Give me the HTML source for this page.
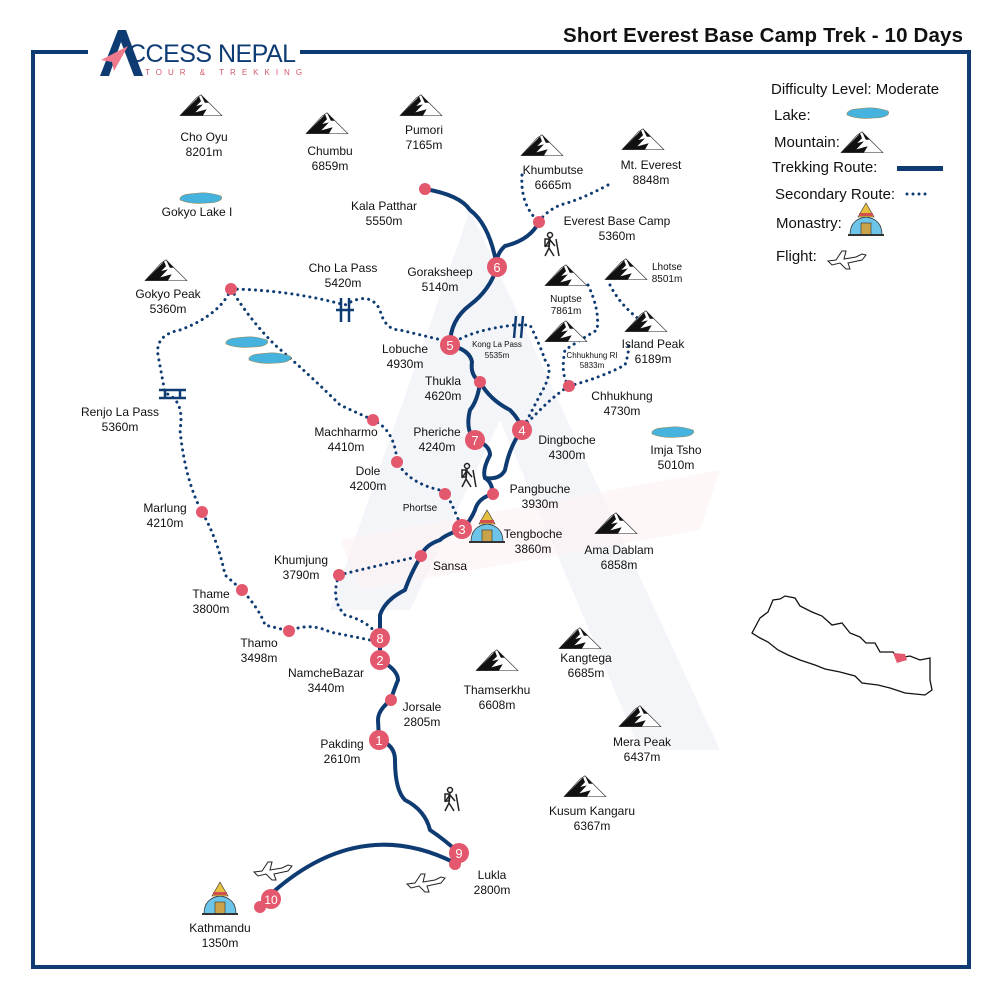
<!DOCTYPE html>
<html><head><meta charset="utf-8"><style>
body{margin:0;background:#fff}
svg{display:block}
text{font-family:"Liberation Sans",Arial,sans-serif;fill:#111}
</style></head><body>
<svg width="1000" height="1000" viewBox="0 0 1000 1000" xmlns="http://www.w3.org/2000/svg">
<defs>
<g id="mt"><g transform="scale(0.95,0.8)">
<path d="M-22,12 L-5,-10 L0,-14 L5,-8 L22,12 Z" fill="#fff" stroke="#222" stroke-width="0.7"/>
<path d="M-22,12 L-7,-6 L-2,-12 L0,-6 L-5,0 L2,-2 L-6,8 L6,4 L2,12 Z" fill="#111"/>
<path d="M0,-14 L8,-4 L4,-4 Z" fill="#111"/>
</g></g>
<g id="lake"><path d="M-21,0 C-18,-5 -8,-4 -2,-5 C6,-6 14,-4 20,-2 C23,2 16,5 6,5 C-4,6 -14,5 -21,2 Z" fill="#45b3dd" stroke="#9a8a5a" stroke-width="0.6"/></g>
<g id="mon">
<path d="M-16,12 Q-16,-4 0,-6 Q16,-4 16,12 Z" fill="#6cc4e8" stroke="#333" stroke-width="0.8"/>
<rect x="-5" y="0" width="10" height="12" fill="#c9a24a" stroke="#333" stroke-width="0.6"/>
<path d="M-8,-6 L0,-20 L8,-6 Z" fill="#e6c040" stroke="#333" stroke-width="0.6"/>
<rect x="-7" y="-10" width="14" height="3" fill="#d2504e"/>
<rect x="-18" y="11" width="36" height="2" fill="#333"/>
</g>
<g id="plane"><path d="M-18,4 L-10,3 L-4,-6 L0,-6 L-2,2 L10,0 L16,-3 L20,-2 L16,3 L2,6 L4,12 L0,12 L-6,6 L-14,8 Z" fill="#fff" stroke="#222" stroke-width="1"/></g>
<g id="hk" stroke="#222" stroke-width="1.5" fill="none"><circle cx="0" cy="-10" r="2.5"/><path d="M0,-7 L-1,3 L-5,11 M-1,3 L4,11 M0,-5 L5,1 M-1,-4 L-5,2 M6,-6 L9,11"/><rect x="-5" y="-6" width="4" height="7"/></g>
</defs>

<!-- watermark -->
<path d="M330,610 L470,210 L720,750 L640,750 L500,420 L410,610 Z" fill="#eef1f7" opacity="0.7"/>
<path d="M340,540 L720,470 L700,530 L360,590 Z" fill="#fdf2f4" opacity="0.6"/>

<!-- frame -->
<path d="M88,52 L33,52 L33,967 L969,967 L969,52 L300,52" fill="none" stroke="#0f3b73" stroke-width="4"/>
<text x="563" y="42" font-size="20.5" font-weight="bold" textLength="400">Short Everest Base Camp Trek - 10 Days</text>

<!-- logo -->
<path d="M100,76 L118,30 L126,30 L143,76 L134,76 L121,42 L109,76 Z" fill="#0f3b73"/>
<path d="M101,60 L128,46 L114,71 L112,62 Z" fill="#f07a8c"/>
<text x="128" y="62" font-size="25" style="fill:#0f3b73" textLength="168">CCESS NEPAL</text>
<text x="145" y="75" font-size="8" letter-spacing="6" style="fill:#d25a6a">TOUR &amp; TREKKING</text>

<!-- secondary routes -->
<g fill="none" stroke="#0f3b73" stroke-width="3" stroke-dasharray="0.1 6" stroke-linecap="round">
<path d="M522,175 Q520,205 539,222"/>
<path d="M608,185 Q580,200 560,205 Q545,212 539,222"/>
<path d="M231,289 Q290,290 345,305 Q370,290 380,310 Q385,330 400,330 L450,342"/>
<path d="M231,289 Q220,315 180,330 Q155,335 158,355 L165,393 Q185,400 180,430 Q185,480 202,512 Q218,540 225,575 L242,590 Q260,610 265,625 L289,631 Q310,622 330,632 L370,640"/>
<path d="M231,289 Q250,320 275,345 Q310,375 340,405 L373,420 Q395,430 397,462 Q410,485 445,491 Q455,510 462,529"/>
<path d="M339,575 Q380,565 421,556"/>
<path d="M339,575 Q330,600 345,615 Q372,622 380,640"/>
<path d="M450,345 Q470,330 515,325 L530,325 Q540,345 545,360 Q555,370 540,395 L522,430"/>
<path d="M588,285 Q600,310 597,330 Q580,340 565,350 Q560,375 569,386 Q555,395 540,410 L525,425"/>
<path d="M569,386 Q600,378 625,365 Q630,350 628,340"/>
<path d="M610,285 Q620,305 640,320"/>
</g>

<!-- main route -->
<g fill="none" stroke="#0f3b73" stroke-width="4" stroke-linecap="round" stroke-linejoin="round">
<path d="M425,189 Q460,195 470,210 Q490,225 497,267 Q490,290 470,305 Q450,320 450,345 Q470,350 472,362 Q470,375 480,382 Q478,400 470,410 Q465,430 475,440 Q490,445 490,455 Q482,470 485,478 Q492,482 493,494 Q478,498 475,510 Q470,522 462,529 Q445,535 440,540 Q425,545 421,556 Q410,575 405,590 Q385,600 380,615 L380,660 Q398,670 398,680 Q392,695 391,700 Q378,710 378,720 L379,740 Q395,745 395,760 Q395,790 405,800 Q425,810 430,830 Q445,840 459,853"/>
<path d="M480,382 Q490,400 510,410 Q520,420 522,430 Q510,445 505,470 Q500,480 485,478"/>
<path d="M539,222 Q530,240 505,246 Q495,255 497,267"/>
<path d="M272,893 Q360,815 455,863"/>
</g>

<!-- dots -->
<g fill="#e4586e">
<circle cx="425" cy="189" r="6"/><circle cx="539" cy="222" r="6"/><circle cx="231" cy="289" r="6"/>
<circle cx="480" cy="382" r="6"/><circle cx="373" cy="420" r="6"/><circle cx="397" cy="462" r="6"/>
<circle cx="445" cy="494" r="6"/><circle cx="493" cy="494" r="6"/><circle cx="421" cy="556" r="6"/>
<circle cx="339" cy="575" r="6"/><circle cx="202" cy="512" r="6"/><circle cx="242" cy="590" r="6"/>
<circle cx="289" cy="631" r="6"/><circle cx="391" cy="700" r="6"/><circle cx="569" cy="386" r="6"/>
<circle cx="455" cy="864" r="6"/><circle cx="260" cy="907" r="6"/>
<circle cx="497" cy="267" r="10"/><circle cx="450" cy="345" r="10"/><circle cx="475" cy="440" r="10"/>
<circle cx="522" cy="430" r="10"/><circle cx="462" cy="529" r="10"/><circle cx="380" cy="638" r="10"/>
<circle cx="380" cy="660" r="10"/><circle cx="379" cy="740" r="10"/><circle cx="459" cy="853" r="10"/>
<circle cx="271" cy="899" r="10"/>
</g>
<g font-size="13" text-anchor="middle">
<text x="497" y="272" style="fill:#fff">6</text><text x="450" y="350" style="fill:#fff">5</text>
<text x="475" y="445" style="fill:#fff">7</text><text x="522" y="435" style="fill:#fff">4</text>
<text x="462" y="534" style="fill:#fff">3</text><text x="380" y="643" style="fill:#fff">8</text>
<text x="380" y="665" style="fill:#fff">2</text><text x="379" y="745" style="fill:#fff">1</text>
<text x="459" y="858" style="fill:#fff">9</text><text x="271" y="904" style="fill:#fff" font-size="12">10</text>
</g>

<!-- passes -->
<g stroke="#0f3b73" stroke-width="2.5" fill="none">
<path d="M341,298 L341,322 M349,298 L349,322 M336,310 L354,310"/>
<path d="M516,316 L514,338 M523,316 L521,338"/>
<path d="M159,390 L186,390 M159,398 L186,398 M165,390 L165,398 M180,390 L180,398"/>
</g>

<!-- mountains -->
<use href="#mt" x="201" y="106"/><use href="#mt" x="327" y="124"/><use href="#mt" x="421" y="106"/>
<use href="#mt" x="542" y="146"/><use href="#mt" x="643" y="140"/><use href="#mt" x="166" y="271"/>
<use href="#mt" x="566" y="276"/><use href="#mt" x="626" y="270"/><use href="#mt" x="566" y="332"/>
<use href="#mt" x="646" y="322"/><use href="#mt" x="616" y="524"/><use href="#mt" x="580" y="639"/>
<use href="#mt" x="497" y="661"/><use href="#mt" x="640" y="717"/><use href="#mt" x="585" y="787"/>
<use href="#mt" x="862" y="143"/>

<!-- lakes -->
<use href="#lake" x="201" y="198"/><use href="#lake" x="247" y="342"/><use href="#lake" x="270" y="358"/>
<use href="#lake" x="673" y="432"/><use href="#lake" x="868" y="113"/>

<!-- monasteries, planes, hikers -->
<use href="#mon" x="487" y="530"/><use href="#mon" x="220" y="902"/><use href="#mon" x="866" y="223"/>
<use href="#plane" x="272" y="868"/><use href="#plane" x="425" y="880"/><use href="#plane" x="846" y="257"/>
<use href="#hk" x="550" y="245"/><use href="#hk" x="467" y="476"/><use href="#hk" x="450" y="800"/>

<!-- legend -->
<g font-size="15">
<text x="771" y="94">Difficulty Level: Moderate</text>
<text x="774" y="120">Lake:</text>
<text x="774" y="147">Mountain:</text>
<text x="772" y="172">Trekking Route:</text>
<text x="775" y="199">Secondary Route:</text>
<text x="776" y="228">Monastry:</text>
<text x="776" y="261">Flight:</text>
</g>
<rect x="897" y="166" width="46" height="5" fill="#0f3b73"/>
<g fill="#0f3b73"><circle cx="907" cy="194" r="1.5"/><circle cx="913" cy="194" r="1.5"/><circle cx="919" cy="194" r="1.5"/><circle cx="925" cy="194" r="1.5"/></g>

<!-- labels -->
<g font-size="12" text-anchor="middle">
<text x="204" y="141">Cho Oyu</text><text x="204" y="156">8201m</text>
<text x="330" y="155">Chumbu</text><text x="330" y="170">6859m</text>
<text x="424" y="134">Pumori</text><text x="424" y="149">7165m</text>
<text x="553" y="174">Khumbutse</text><text x="553" y="189">6665m</text>
<text x="651" y="169">Mt. Everest</text><text x="651" y="184">8848m</text>
<text x="197" y="216">Gokyo Lake I</text>
<text x="384" y="210">Kala Patthar</text><text x="384" y="225">5550m</text>
<text x="617" y="225">Everest Base Camp</text><text x="617" y="240">5360m</text>
<text x="343" y="272">Cho La Pass</text><text x="343" y="287">5420m</text>
<text x="440" y="276">Goraksheep</text><text x="440" y="291">5140m</text>
<text x="168" y="298">Gokyo Peak</text><text x="168" y="313">5360m</text>
<text x="566" y="302" font-size="10">Nuptse</text><text x="566" y="314" font-size="10">7861m</text>
<text x="667" y="270" font-size="10">Lhotse</text><text x="667" y="282" font-size="10">8501m</text>
<text x="653" y="348">Island Peak</text><text x="653" y="363">6189m</text>
<text x="497" y="347" font-size="8">Kong La Pass</text><text x="497" y="358" font-size="8">5535m</text>
<text x="592" y="358" font-size="8">Chhukhung RI</text><text x="592" y="368" font-size="8">5833m</text>
<text x="405" y="353">Lobuche</text><text x="405" y="368">4930m</text>
<text x="443" y="385">Thukla</text><text x="443" y="400">4620m</text>
<text x="622" y="400">Chhukhung</text><text x="622" y="415">4730m</text>
<text x="120" y="416">Renjo La Pass</text><text x="120" y="431">5360m</text>
<text x="346" y="436">Machharmo</text><text x="346" y="451">4410m</text>
<text x="437" y="436">Pheriche</text><text x="437" y="451">4240m</text>
<text x="567" y="444">Dingboche</text><text x="567" y="459">4300m</text>
<text x="676" y="454">Imja Tsho</text><text x="676" y="469">5010m</text>
<text x="368" y="475">Dole</text><text x="368" y="490">4200m</text>
<text x="540" y="493">Pangbuche</text><text x="540" y="508">3930m</text>
<text x="420" y="511" font-size="10">Phortse</text>
<text x="165" y="512">Marlung</text><text x="165" y="527">4210m</text>
<text x="533" y="538">Tengboche</text><text x="533" y="553">3860m</text>
<text x="619" y="554">Ama Dablam</text><text x="619" y="569">6858m</text>
<text x="450" y="570">Sansa</text>
<text x="301" y="564">Khumjung</text><text x="301" y="579">3790m</text>
<text x="211" y="598">Thame</text><text x="211" y="613">3800m</text>
<text x="259" y="647">Thamo</text><text x="259" y="662">3498m</text>
<text x="586" y="662">Kangtega</text><text x="586" y="677">6685m</text>
<text x="326" y="677">NamcheBazar</text><text x="326" y="692">3440m</text>
<text x="497" y="694">Thamserkhu</text><text x="497" y="709">6608m</text>
<text x="422" y="711">Jorsale</text><text x="422" y="726">2805m</text>
<text x="642" y="746">Mera Peak</text><text x="642" y="761">6437m</text>
<text x="342" y="748">Pakding</text><text x="342" y="763">2610m</text>
<text x="592" y="815">Kusum Kangaru</text><text x="592" y="830">6367m</text>
<text x="492" y="879">Lukla</text><text x="492" y="894">2800m</text>
<text x="220" y="932">Kathmandu</text><text x="220" y="947">1350m</text>
</g>

<!-- Nepal map -->
<path d="M752,633 L760,618 L768,612 L773,600 L780,599 L785,596 L795,598 L800,606 L812,612 L822,616 L832,625 L842,623 L850,633 L860,637 L866,643 L875,643 L880,652 L893,652 L898,658 L910,656 L920,660 L930,658 L930,680 L932,690 L925,695 L905,693 L890,688 L878,685 L862,683 L855,676 L840,672 L825,669 L815,665 L800,660 L788,655 L778,650 L768,642 L760,638 Z" fill="#fff" stroke="#111" stroke-width="1.3"/>
<path d="M893,653 L905,654 L907,660 L897,663 Z" fill="#e4586e"/>
</svg>
</body></html>
